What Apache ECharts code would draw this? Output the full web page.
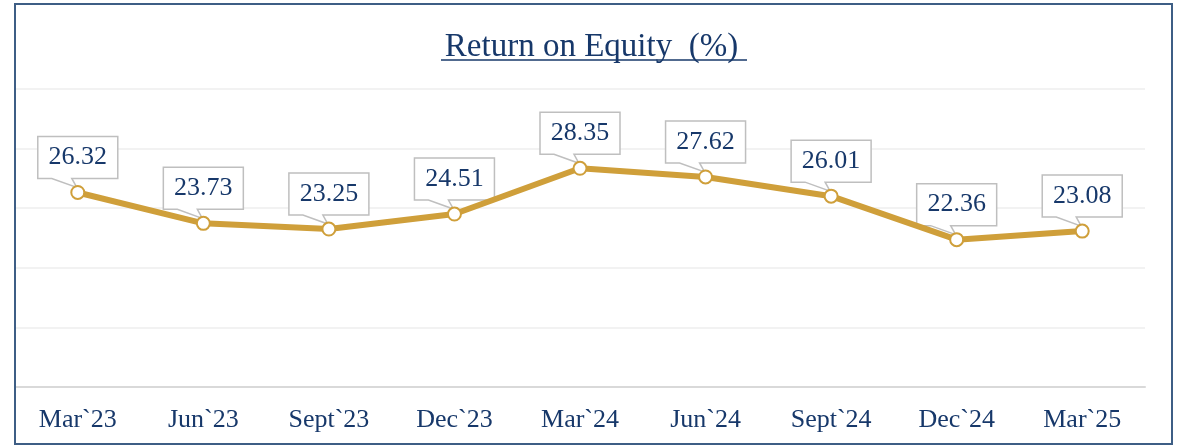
<!DOCTYPE html>
<html>
<head>
<meta charset="utf-8">
<script src="https://cdn.jsdelivr.net/npm/echarts@6/dist/echarts.min.js"></script>
<style>
  html, body { margin: 0; padding: 0; background: #fff; }
  #chart { width: 1183px; height: 446px; }
</style>
</head>
<body>
<div id="chart"></div>
<script>
// Quarterly return on equity, in percent
const quarters = ['Mar`23', 'Jun`23', 'Sept`23', 'Dec`23', 'Mar`24', 'Jun`24', 'Sept`24', 'Dec`24', 'Mar`25'];
const roeValues = [26.32, 23.73, 23.25, 24.51, 28.35, 27.62, 26.01, 22.36, 23.08];
const chartTitle = 'Return on Equity  (%)';

const NAVY = '#17386a';
const GOLD = '#cf9f3a';
const SERIF = '"Liberation Serif", "Times New Roman", serif';

const chart = echarts.init(document.getElementById('chart'), null, { renderer: 'canvas' });

// Callout box with a pointer tail, anchored to each data point
function renderCallout(params, api) {
  const idx = api.value(0);
  const val = api.value(1);
  const p = api.coord([idx, val]);
  const w = 80, h = 42, gap = 14;
  const left = p[0] - w / 2;
  const right = p[0] + w / 2;
  const bottom = p[1] - gap;
  const top = bottom - h;
  return {
    type: 'group',
    children: [
      {
        type: 'polygon',
        shape: {
          points: [
            [left, top], [right, top], [right, bottom],
            [p[0] - 6, bottom], [p[0] - 1, p[1] - 5], [p[0] - 26, bottom],
            [left, bottom]
          ]
        },
        style: { fill: '#ffffff', stroke: '#bfbfbf', lineWidth: 1.5 }
      },
      {
        type: 'text',
        style: {
          text: val.toFixed(2),
          x: p[0],
          y: top + h / 2,
          align: 'center',
          verticalAlign: 'middle',
          fill: NAVY,
          font: '26px ' + SERIF
        }
      }
    ]
  };
}

chart.setOption({
  backgroundColor: '#ffffff',
  animation: false,
  title: {
    text: chartTitle,
    left: 'center',
    top: 26,
    textStyle: { color: NAVY, fontFamily: SERIF, fontSize: 33, fontWeight: 'normal' }
  },
  graphic: [
    {
      type: 'rect',
      shape: { x: 15, y: 4, width: 1157, height: 440 },
      style: { fill: null, stroke: '#3e5e85', lineWidth: 2 },
      z: 100
    },
    {
      type: 'line',
      shape: { x1: 441, y1: 60, x2: 747, y2: 60 },
      style: { stroke: NAVY, lineWidth: 1.5 }
    }
  ],
  grid: { left: 15, right: 38, top: 89, bottom: 59, containLabel: false },
  xAxis: {
    type: 'category',
    data: quarters,
    boundaryGap: true,
    axisLine: { lineStyle: { color: '#d9d9d9', width: 2 } },
    axisTick: { show: false },
    axisLabel: { color: NAVY, fontFamily: SERIF, fontSize: 26, margin: 20 }
  },
  yAxis: {
    type: 'value',
    min: 10,
    max: 35,
    interval: 5,
    axisLine: { show: false },
    axisTick: { show: false },
    axisLabel: { show: false },
    splitLine: { lineStyle: { color: '#eeeeee', width: 1.5 } }
  },
  series: [
    {
      type: 'custom',
      name: 'callouts',
      data: roeValues.map((v, i) => [i, v]),
      renderItem: renderCallout,
      z: 2,
      silent: true
    },
    {
      type: 'line',
      name: 'ROE',
      data: roeValues,
      z: 3,
      lineStyle: { color: GOLD, width: 6 },
      itemStyle: { color: '#ffffff', borderColor: GOLD, borderWidth: 2 },
      symbol: 'circle',
      symbolSize: 13,
      showAllSymbol: true
    }
  ]
});
</script>
</body>
</html>
